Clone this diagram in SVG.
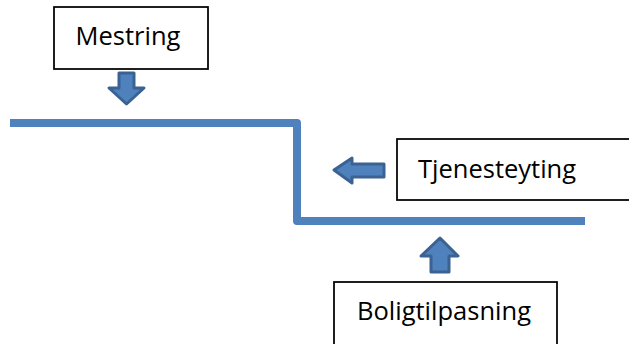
<svg xmlns="http://www.w3.org/2000/svg" width="629" height="344" viewBox="0 0 629 344">
<style>
.box{fill:#fff;stroke:#000;stroke-width:1.75}
.lbl{font-family:"Open Sans","Liberation Sans",sans-serif;font-size:25.5px;fill:#000}
.arr{fill:#4F81BD;stroke:#3A6394;stroke-width:3;stroke-linejoin:round}
.line{fill:none;stroke:#4F81BD;stroke-width:8;stroke-linejoin:round}
</style>
<rect width="629" height="344" fill="#fff"/>
<g id="connectors">
<path class="line" d="M10,123 H297 V221 H585"/>
<polygon class="arr" points="119,73 134,73 134,88 144,88 126.5,104 109,88 119,88"/>
<polygon class="arr" points="334,170 352,158 352,164 384,164 384,177 352,177 352,183"/>
<polygon class="arr" points="440,238 458,256 449,256 449,272 431,272 431,256 421,256"/>
</g>
<g id="mestring">
<rect class="box" x="54" y="7" width="154" height="62"/>
<text class="lbl" x="128" y="45" text-anchor="middle">Mestring</text>
</g>
<g id="tjenesteyting">
<rect class="box" x="397" y="139" width="240" height="61"/>
<text class="lbl" x="418" y="178">Tjenesteyting</text>
</g>
<g id="boligtilpasning">
<rect class="box" x="334" y="282" width="223" height="70"/>
<text class="lbl" x="357" y="320">Boligtilpasning</text>
</g>
</svg>
